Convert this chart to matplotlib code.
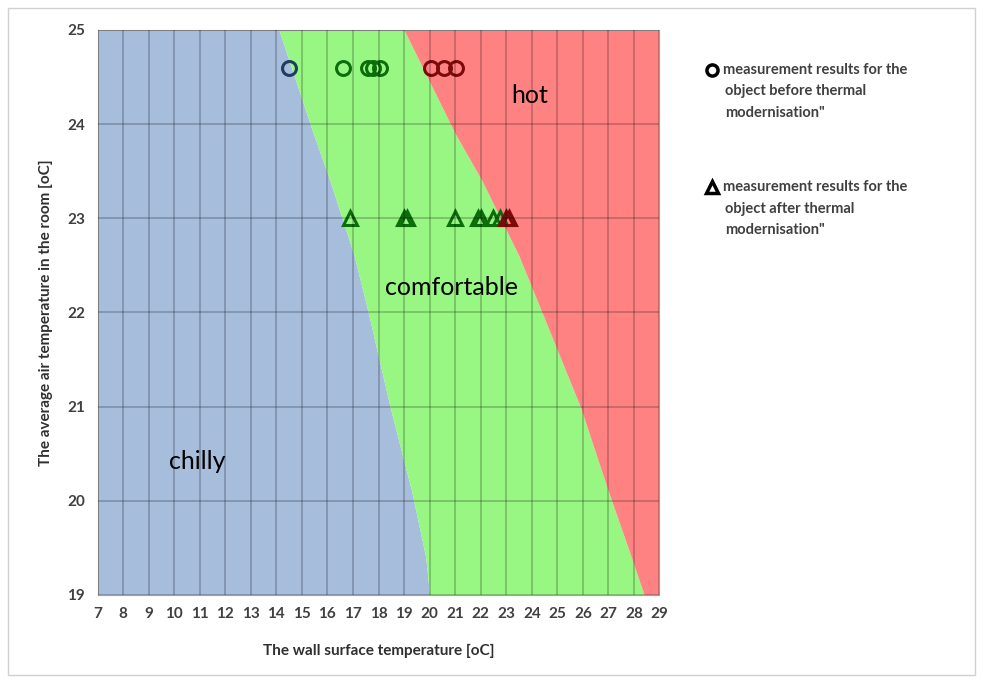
import numpy as np
import matplotlib.pyplot as plt
from matplotlib.patches import Rectangle

plt.rcParams['font.family'] = ['Lato', 'DejaVu Sans']

# Zone boundaries (air temperature -> wall temperature)
bound_y = [19.0, 19.4, 20.1, 21.0, 22.0, 22.6, 23.4, 23.9, 25.0]
cold_x = [20.0, 19.85, 19.3, 18.45, 17.6, 17.05, 16.1, 15.45, 14.1]
hot_x = [28.4, 27.9, 27.0, 25.9, 24.4, 23.5, 22.05, 21.0, 19.0]

# Measurements before thermal modernisation
before_x = [14.5, 16.6, 17.6, 17.8, 18.05, 20.05, 20.55, 21.05]
before_y = [24.6] * 8
# Measurements after thermal modernisation
after_x = [16.9, 19.0, 19.1, 21.0, 21.9, 22.0, 22.5, 22.75, 23.0, 23.1]
after_y = [23.0] * 10

xticks = list(range(7, 30))
yticks = list(range(19, 26))

blue = '#a6bddc'
green = '#98f682'
red = '#ff8282'


def zone_colour(x, y):
    # darker marker colour depending on which zone the point falls in
    c = np.interp(y, bound_y, cold_x)
    h = np.interp(y, bound_y, hot_x)
    if x < c:
        return '#1f3d60'
    if x > h:
        return '#7d0a0a'
    return '#0b6e0b'


def main():
    fig = plt.figure(figsize=(9.83, 6.8), dpi=100)
    fig.patches.append(Rectangle((0.008, 0.008), 0.984, 0.98, transform=fig.transFigure,
                                 fill=False, edgecolor='#d0d0d0', lw=1))
    ax = fig.add_axes([0.0992, 0.125, 0.5717, 0.831])

    ax.fill_betweenx(bound_y, 7, cold_x, color=blue, lw=0)
    ax.fill_betweenx(bound_y, cold_x, hot_x, color=green, lw=0)
    ax.fill_betweenx(bound_y, hot_x, 29, color=red, lw=0)

    ax.set_xlim(7, 29)
    ax.set_ylim(19, 25)
    ax.set_xticks(xticks)
    ax.set_yticks(yticks)
    ax.grid(True, color='black', alpha=0.2, lw=1.4)
    ax.set_axisbelow(False)
    ax.tick_params(length=0, labelsize=11, labelcolor='#404040', pad=9)
    for lab in ax.get_xticklabels() + ax.get_yticklabels():
        lab.set_fontweight('bold')
    for s in ax.spines.values():
        s.set_color('#a0a0a0')

    for x, y in zip(before_x, before_y):
        ax.plot(x, y, 'o', ms=10, mfc='none', mec=zone_colour(x, y), mew=2.2)
    for x, y in zip(after_x, after_y):
        ax.plot(x, y, '^', ms=10, mfc='none', mec=zone_colour(x, y), mew=2.2)

    ax.text(23.9, 24.3, 'hot', fontsize=18, ha='center', va='center')
    ax.text(20.85, 22.27, 'comfortable', fontsize=18, ha='center', va='center')
    ax.text(10.9, 20.42, 'chilly', fontsize=18, ha='center', va='center')

    ax.set_xlabel('The wall surface temperature [oC]', fontsize=11, fontweight='bold',
                  color='#303030', labelpad=16)
    ax.set_ylabel('The average air temperature in the room [oC]', fontsize=11,
                  fontweight='bold', color='#303030', labelpad=10)

    # legend written as text next to the plot
    lx = 712 / 983
    tx = 723 / 983
    fig.lines.append(plt.Line2D([lx], [1 - 70 / 680], marker='o', ms=8, mfc='none',
                                mec='black', mew=2.5, transform=fig.transFigure))
    fig.lines.append(plt.Line2D([lx], [1 - 187 / 680], marker='^', ms=8, mfc='none',
                                mec='black', mew=2.5, transform=fig.transFigure))
    leg1 = ['measurement results for the', 'object before thermal', 'modernisation"']
    leg2 = ['measurement results for the', 'object after thermal', 'modernisation"']
    for i, t in enumerate(leg1):
        fig.text(tx if i == 0 else tx + 0.002, 1 - (70 + 21.5 * i) / 680, t, fontsize=10.5,
                 fontweight='bold', color='#404040', va='center')
    for i, t in enumerate(leg2):
        fig.text(tx if i == 0 else tx + 0.002, 1 - (187 + 21.5 * i) / 680, t, fontsize=10.5,
                 fontweight='bold', color='#404040', va='center')

    fig.savefig('out.png', dpi=100)


main()
